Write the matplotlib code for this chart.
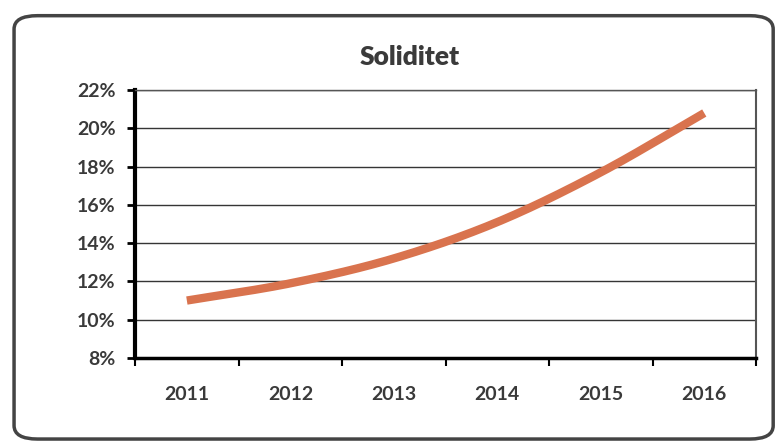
import matplotlib.pyplot as plt
import numpy as np
from matplotlib.patches import FancyBboxPatch

years = ["2011", "2012", "2013", "2014", "2015", "2016"]
soliditet = [11.0, 11.9, 13.2, 15.1, 17.7, 20.8]   # percent
y_ticks = [8, 10, 12, 14, 16, 18, 20, 22]


def smooth(x, y, n=30):
    """catmull-rom style smoothing like excel's smoothed line"""
    x = np.asarray(x, float)
    y = np.asarray(y, float)
    px = np.concatenate([[2 * x[0] - x[1]], x, [2 * x[-1] - x[-2]]])
    py = np.concatenate([[2 * y[0] - y[1]], y, [2 * y[-1] - y[-2]]])
    xs, ys = [], []
    for i in range(1, len(px) - 2):
        t = np.linspace(0, 1, n)
        for p, out in ((px, xs), (py, ys)):
            p0, p1, p2, p3 = p[i - 1], p[i], p[i + 1], p[i + 2]
            out.extend(0.5 * ((2 * p1) + (-p0 + p2) * t
                              + (2 * p0 - 5 * p1 + 4 * p2 - p3) * t ** 2
                              + (-p0 + 3 * p1 - 3 * p2 + p3) * t ** 3))
    return np.array(xs), np.array(ys)


plt.rcParams['font.family'] = ['Lato', 'DejaVu Sans']
fig = plt.figure(figsize=(7.81, 4.48), dpi=100)

# outer rounded chart frame
frame = FancyBboxPatch((0.018, 0.02), 0.972, 0.945, boxstyle="round,pad=0,rounding_size=0.03",
                       transform=fig.transFigure, fill=False, edgecolor="#444444", linewidth=2.5)
fig.patches.append(frame)

ax = fig.add_axes([0.173, 0.201, 0.795, 0.598])
x = np.arange(len(years))
sx, sy = smooth(x, soliditet)
ax.plot(sx, sy, color="#D9734E", linewidth=6, solid_capstyle="butt", zorder=3)

ax.set_xlim(-0.5, len(years) - 0.5)
ax.set_ylim(8, 22)
ax.set_yticks(y_ticks)
ax.set_yticklabels([f"{v}%" for v in y_ticks])
ax.set_xticks(x)
ax.set_xticklabels(years)
ax.set_xticks(np.arange(len(years) + 1) - 0.5, minor=True)
ax.tick_params(axis="x", which="major", length=0, pad=20)
ax.tick_params(axis="x", which="minor", length=6, width=1.5, direction="out")
ax.tick_params(axis="y", length=6, width=2, direction="out", pad=8)
for lab in ax.get_xticklabels() + ax.get_yticklabels():
    lab.set_fontsize(14)
    lab.set_fontweight("bold")
    lab.set_color("#3a3a3a")

ax.grid(True, axis="y", color="#111111", linewidth=1.0, alpha=0.85)
ax.set_axisbelow(True)
ax.spines["left"].set_linewidth(3)
ax.spines["bottom"].set_linewidth(2.5)
ax.spines["right"].set_linewidth(1.5)
ax.spines["right"].set_color("#555555")
ax.spines["top"].set_linewidth(1.0)
ax.spines["top"].set_color("#555555")

fig.text(0.525, 0.872, "Soliditet", ha="center", va="center", fontsize=19,
         fontweight="heavy", color="#3a3a3a")

fig.savefig("out.png", dpi=100)
